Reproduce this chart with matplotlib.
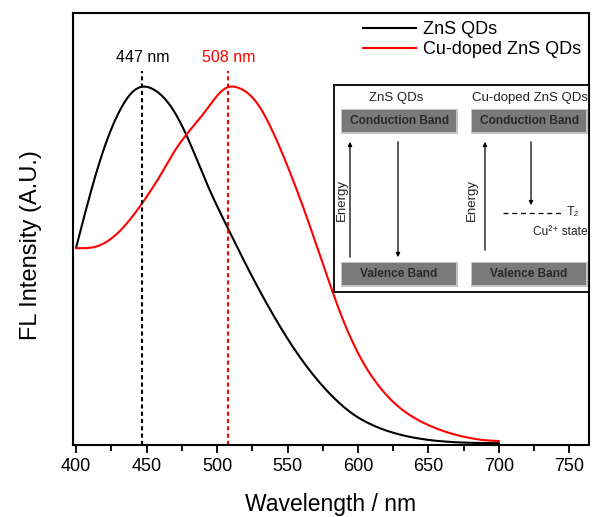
import matplotlib
matplotlib.use('Agg')
import matplotlib.pyplot as plt
import numpy as np

plt.rcParams['font.family'] = ['Liberation Sans', 'DejaVu Sans']

# emission spectra (normalised to peak = 1)
wl_zns = [400, 410, 420, 430, 440, 447, 455, 465, 475, 485, 495, 508, 520, 530,
          540, 550, 560, 570, 580, 590, 600, 620, 640, 660, 680, 700]
fl_zns = [0.55, 0.70, 0.83, 0.925, 0.985, 1.0, 0.99, 0.955, 0.89, 0.80, 0.705, 0.60,
          0.505, 0.43, 0.36, 0.295, 0.237, 0.186, 0.142, 0.105, 0.076, 0.04, 0.02,
          0.01, 0.006, 0.005]

wl_cu = [400, 410, 420, 430, 440, 450, 460, 470, 480, 490, 500, 508, 518, 528,
         538, 548, 558, 568, 578, 588, 598, 608, 618, 628, 640, 650, 665, 680, 690, 700]
fl_cu = [0.547, 0.547, 0.56, 0.59, 0.635, 0.69, 0.75, 0.82, 0.872, 0.918, 0.972, 1.0,
         0.99, 0.955, 0.885, 0.795, 0.695, 0.585, 0.47, 0.36, 0.27, 0.2, 0.148, 0.108,
         0.075, 0.055, 0.033, 0.019, 0.013, 0.011]

peaks = [447, 508]
peak_labels = ['447 nm', '508 nm']
names = ['ZnS QDs', 'Cu-doped ZnS QDs']
colors = ['black', 'red']


def pchip(x, y, n=700):
    # piecewise cubic hermite through the read points, lightly smoothed for drawing
    x = np.asarray(x, float)
    y = np.asarray(y, float)
    h = np.diff(x)
    d = np.diff(y) / h
    m = np.zeros_like(y)
    for i in range(1, len(y) - 1):
        if d[i-1] * d[i] > 0:
            w1 = 2*h[i] + h[i-1]
            w2 = h[i] + 2*h[i-1]
            m[i] = (w1 + w2) / (w1/d[i-1] + w2/d[i])
    m[0] = d[0]
    m[-1] = d[-1]
    xs = np.linspace(x[0], x[-1], n)
    k = np.clip(np.searchsorted(x, xs) - 1, 0, len(x) - 2)
    t = (xs - x[k]) / h[k]
    h00 = 2*t**3 - 3*t**2 + 1
    h10 = t**3 - 2*t**2 + t
    h01 = -2*t**3 + 3*t**2
    h11 = t**3 - t**2
    ys = h00*y[k] + h10*h[k]*m[k] + h01*y[k+1] + h11*h[k]*m[k+1]
    # gaussian smoothing, odd reflection at the ends keeps the end slopes
    step = xs[1] - xs[0]
    sig = 4.0 / step
    r = int(3 * sig)
    g = np.exp(-0.5 * (np.arange(-r, r + 1) / sig)**2)
    g /= g.sum()
    left = 2*ys[0] - ys[1:r+1][::-1]
    right = 2*ys[-1] - ys[-r-1:-1][::-1]
    ys = np.convolve(np.concatenate([left, ys, right]), g, mode='valid')
    return xs, ys


fig = plt.figure(figsize=(5.95, 5.17), dpi=100)
ax = fig.add_axes([72.7/595, 1-445/517, (589-72.7)/595, (445-13.3)/517])

for x, y, c, n in [(wl_zns, fl_zns, colors[0], names[0]), (wl_cu, fl_cu, colors[1], names[1])]:
    xs, ys = pchip(x, y)
    ax.plot(xs, ys, color=c, lw=1.5, label=n)

for p, lab, c in zip(peaks, peak_labels, colors):
    ax.plot([p, p], [0, 1.04], color=c, lw=1.5, ls=(0, (2, 1.5)))
    ax.text(p, 1.055, lab, color=c, ha='center', va='bottom', fontsize=11.5)

ax.set_xlim(397.5, 764)
ax.set_ylim(0, 1.2)
ax.set_xticks(np.arange(400, 751, 50))
ax.set_xticks(np.arange(400, 751, 25), minor=True)
ax.set_yticks([])
ax.tick_params(axis='x', which='major', direction='out', length=6, width=1.3, labelsize=13)
ax.tick_params(axis='x', which='minor', direction='out', length=4, width=1.3)
for s in ax.spines.values():
    s.set_linewidth(1.5)
ax.set_xlabel('Wavelength / nm', fontsize=16.5, labelpad=13)
ax.set_ylabel('FL Intensity (A.U.)', fontsize=17)
ax.yaxis.set_label_coords(-0.059, 0.463)

ax.legend(loc='upper right', frameon=False, fontsize=13, handlelength=2.9,
          handletextpad=0.4, labelspacing=0.15, borderaxespad=0.05)

# energy level inset (pixel coords of the inset box)
ins = fig.add_axes([334/595, 1-292/517, 255/595, 207/517])
ins.set_xlim(0, 255)
ins.set_ylim(207, 0)
ins.set_xticks([])
ins.set_yticks([])
for s in ins.spines.values():
    s.set_linewidth(1.3)

ins.text(62, 13, 'ZnS QDs', ha='center', va='center', fontsize=9.5, color='#222222')
ins.text(196, 13, 'Cu-doped ZnS QDs', ha='center', va='center', fontsize=9.5, color='#222222')

for bx in [8, 138]:
    for by, lab in [(25, 'Conduction Band'), (178, 'Valence Band')]:
        ins.add_patch(plt.Rectangle((bx - 1.5, by - 1.5), 117, 25, color='#c4c4c4', lw=0))
        ins.add_patch(plt.Rectangle((bx, by), 114, 22, color='#7a7a7a', lw=0))
        ins.text(bx + 57, by + 11, lab, ha='center', va='center', fontsize=8.6,
                 fontweight='bold', color='#2a2a2a')

arrow = dict(arrowstyle='-|>', color='black', lw=0.9, mutation_scale=6)
ins.annotate('', xy=(16, 54), xytext=(16, 175), arrowprops=arrow)
ins.annotate('', xy=(64, 175), xytext=(64, 54), arrowprops=arrow)
ins.annotate('', xy=(151, 54), xytext=(151, 168), arrowprops=arrow)
ins.annotate('', xy=(197, 123), xytext=(197, 54), arrowprops=arrow)

ins.text(8, 115, 'Energy', rotation=90, ha='center', va='center', fontsize=9.5, color='#222222')
ins.text(138, 115, 'Energy', rotation=90, ha='center', va='center', fontsize=9.5, color='#222222')

ins.plot([169, 228], [128, 128], color='black', lw=0.9, ls=(0, (4, 3)))
ins.text(233, 127, 'T₂', ha='left', va='center', fontsize=9, color='#222222')
ins.text(226, 147, 'Cu²⁺ state', ha='center', va='center', fontsize=8.6, color='#222222')

fig.savefig('out.png', dpi=100)
